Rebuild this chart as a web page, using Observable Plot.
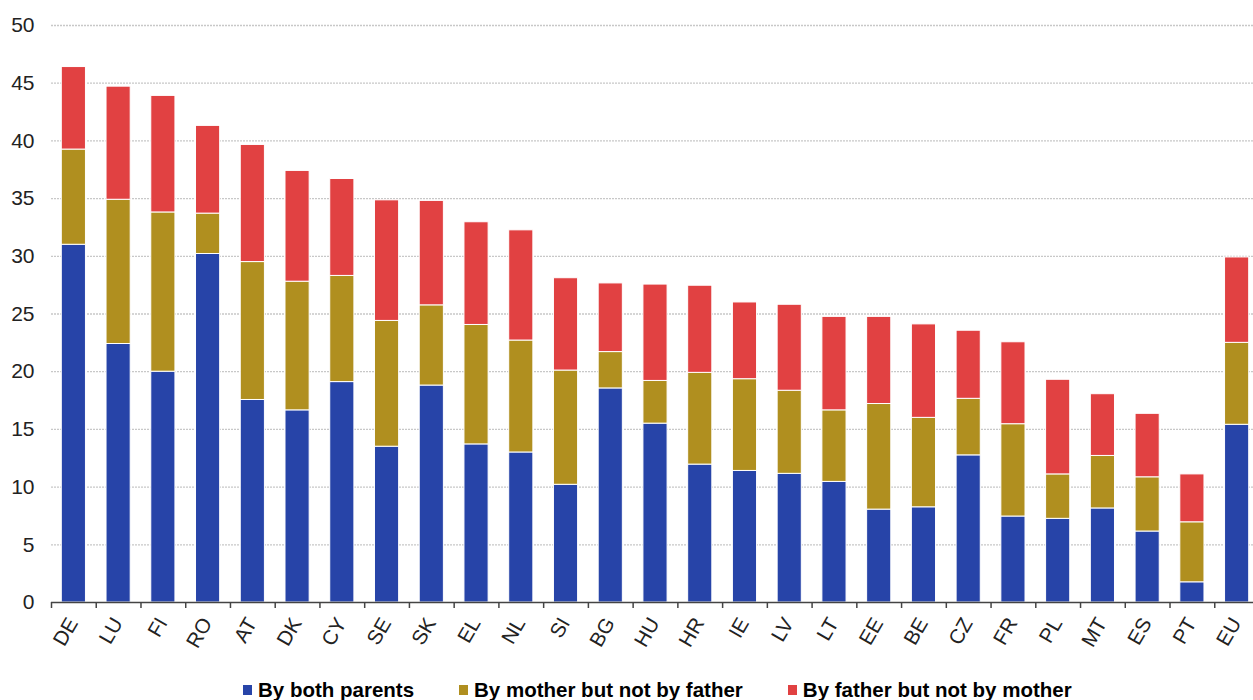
<!DOCTYPE html>
<html><head><meta charset="utf-8">
<script src="https://cdn.jsdelivr.net/npm/d3@7"></script>
<script src="https://cdn.jsdelivr.net/npm/@observablehq/plot@0.6"></script>
<style>
body{margin:0;background:#fff;font-family:"Liberation Sans",Arial,sans-serif;overflow:hidden;}
#legend{display:flex;align-items:center;margin-left:243px;margin-top:15px;height:20px;font-weight:bold;font-size:20.5px;color:#000;white-space:nowrap;}
.item{display:flex;align-items:center;margin-right:45px;}
.sw{width:9px;height:10px;margin-right:6px;}
</style></head><body><div id="chart"></div><div id="legend"></div>
<script>
const countries = ["DE","LU","FI","RO","AT","DK","CY","SE","SK","EL","NL","SI","BG","HU","HR","IE","LV","LT","EE","BE","CZ","FR","PL","MT","ES","PT","EU"];
const bothParents = [31.0,22.4,20.0,30.2,17.55,16.65,19.1,13.5,18.8,13.7,13.0,10.2,18.55,15.5,11.95,11.4,11.15,10.45,8.05,8.25,12.75,7.45,7.25,8.15,6.15,1.75,15.4];
const motherOnly = [8.25,12.5,13.8,3.5,11.95,11.15,9.2,10.9,6.95,10.35,9.7,9.9,3.15,3.7,7.95,7.95,7.2,6.2,9.15,7.75,4.9,8.0,3.85,4.55,4.7,5.2,7.1];
const fatherOnly = [7.15,9.8,10.1,7.6,10.15,9.6,8.4,10.45,9.05,8.9,9.55,8.0,5.95,8.35,7.55,6.65,7.45,8.1,7.55,8.1,5.9,7.1,8.2,5.35,5.5,4.15,7.4];
const seriesNames = ["By both parents","By mother but not by father","By father but not by mother"];
const seriesColors = ["#2744A8","#B08F1F","#E14142"];
const yTicks = [0,5,10,15,20,25,30,35,40,45,50];

const seriesValues = [bothParents, motherOnly, fatherOnly];
const data = [];
countries.forEach((c, i) => {
  seriesNames.forEach((s, k) => data.push({country: c, series: s, value: seriesValues[k][i]}));
});

const W = 1253, ML = 51, MR = -6;
const step = (W - MR - ML) / countries.length;
const font = '"Liberation Sans", Arial, sans-serif';

const chart = Plot.plot({
  width: W, height: 665,
  marginLeft: ML, marginRight: MR, marginTop: 25, marginBottom: 63,
  style: {fontFamily: font, fontSize: "20px", color: "#222", background: "#fff", overflow: "visible"},
  x: {domain: countries, paddingInner: 0.46, paddingOuter: 0.23, round: false, label: null},
  y: {domain: [0, 50], label: null},
  color: {domain: seriesNames, range: seriesColors},
  marks: [
    Plot.ruleY(yTicks.filter(d => d > 0), {stroke: "#c8c8c8", strokeWidth: 1.3, strokeDasharray: "2,1"}),
    Plot.barY(data, Plot.stackY({x: "country", y: "value", fill: "series", order: seriesNames, stroke: "white", strokeWidth: 1})),
    Plot.ruleY([0], {stroke: "#444", strokeWidth: 1.5}),
    Plot.axisY({ticks: yTicks, tickSize: 0, tickPadding: 17, fontSize: 21, fill: "#222"}),
    Plot.axisX({tickSize: 6, text: null, dx: -step / 2, stroke: "#444", strokeWidth: 1.5}),
    Plot.axisX({tickSize: 0, tickPadding: 17, dx: -1, tickRotate: -60, fontSize: 20.5, fill: "#222"})
  ]
});
document.getElementById("chart").appendChild(chart);

const legend = document.getElementById("legend");
seriesNames.forEach((s, k) => {
  const item = document.createElement("div");
  item.className = "item";
  const sw = document.createElement("span");
  sw.className = "sw";
  sw.style.background = seriesColors[k];
  const t = document.createElement("span");
  t.textContent = s;
  item.appendChild(sw); item.appendChild(t);
  legend.appendChild(item);
});
</script></body></html>
